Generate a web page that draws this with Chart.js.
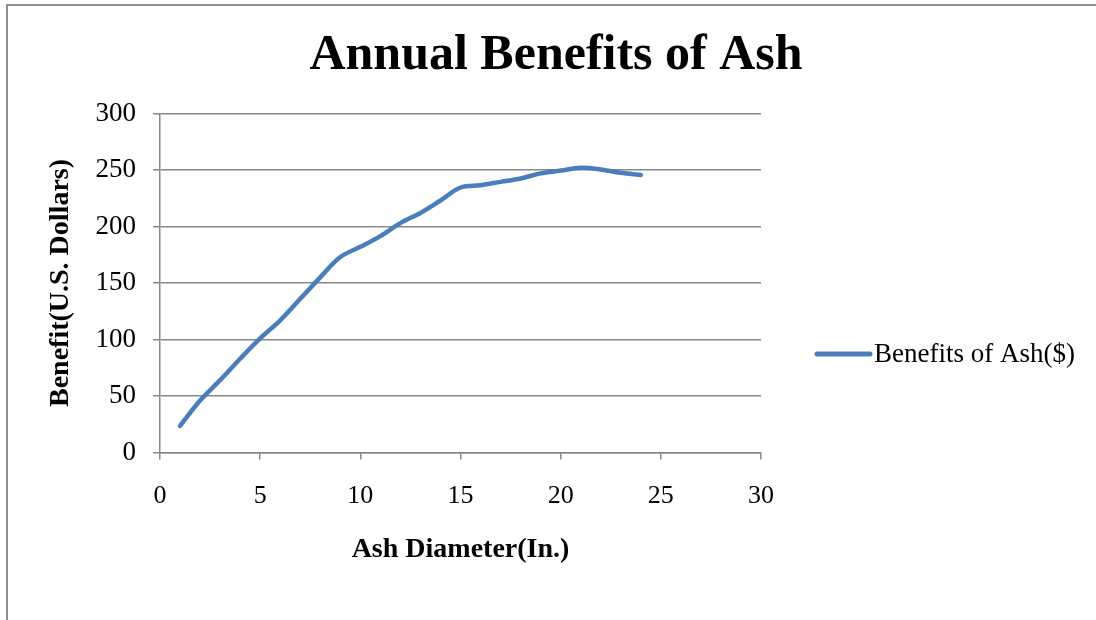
<!DOCTYPE html>
<html>
<head>
<meta charset="utf-8">
<script src="https://cdn.jsdelivr.net/npm/chart.js@4.4.1/dist/chart.umd.min.js"></script>
<style>
  html, body { margin: 0; padding: 0; background: #fff; overflow: hidden; }
  #wrap { position: relative; width: 1096px; height: 620px; }
  #frame { position: absolute; left: 6px; top: 4px; width: 1300px; height: 900px; border: 2px solid #8e8e8e; box-sizing: border-box; }
  canvas { position: absolute; left: 0; top: 0; }
</style>
</head>
<body>
<div id="wrap">
  <div id="frame"></div>
  <canvas id="c" width="1096" height="620"></canvas>
</div>
<script>
// Data
const diameters = [1, 2, 3, 4, 5, 6, 7, 8, 9, 10, 11, 12, 13, 14, 15, 16, 17, 18, 19, 20, 21, 22, 23, 24];
const benefits = [23.5, 46, 64, 83, 101, 117, 136, 155, 173, 182, 191.5, 203, 212, 223, 234.5, 236.5, 239.5, 242.5, 247, 249.5, 252, 250.5, 247.5, 245.5];
const seriesName = 'Benefits of Ash($)';
const chartTitle = 'Annual Benefits of Ash';
const xTitle = 'Ash Diameter(In.)';
const yTitle = 'Benefit(U.S. Dollars)';
const xTickStep = 5, xMin = 0, xMax = 30;
const yTickStep = 50, yMin = 0, yMax = 300;

const FONT = '"Liberation Serif", "Times New Roman", serif';
const LINE_COLOR = '#4a7ebb';
const GRID = '#888888';

const decorPlugin = {
  id: 'decor',
  afterDraw(chart) {
    const ctx = chart.ctx;
    ctx.save();
    // Chart title, centred over the whole picture
    ctx.fillStyle = '#000';
    ctx.font = 'bold 50px ' + FONT;
    ctx.textBaseline = 'middle';
    ctx.textAlign = 'center';
    ctx.fillText(chartTitle, 556, 56);
    // Legend
    ctx.strokeStyle = LINE_COLOR;
    ctx.lineWidth = 5;
    ctx.lineCap = 'round';
    ctx.beginPath();
    ctx.moveTo(817, 354);
    ctx.lineTo(870, 354);
    ctx.stroke();
    ctx.font = '27px ' + FONT;
    ctx.textAlign = 'left';
    ctx.fillText(seriesName, 874, 355);
    ctx.restore();
  }
};

new Chart(document.getElementById('c'), {
  type: 'line',
  data: {
    datasets: [{
      label: seriesName,
      data: diameters.map((x, i) => ({ x: x, y: benefits[i] })),
      borderColor: LINE_COLOR,
      backgroundColor: LINE_COLOR,
      borderWidth: 4.5,
      pointRadius: 0,
      tension: 0.35,
      borderCapStyle: 'round',
      borderJoinStyle: 'round',
      fill: false
    }]
  },
  options: {
    responsive: false,
    animation: false,
    layout: { padding: { left: 40, right: 335, top: 113.5, bottom: 49 } },
    plugins: {
      legend: { display: false },
      tooltip: { enabled: false },
      title: { display: false }
    },
    scales: {
      x: {
        type: 'linear',
        min: xMin, max: xMax,
        afterFit(scale) { scale.height = 118.5; },
        ticks: { stepSize: xTickStep, color: '#000', padding: 21, font: { family: FONT, size: 26 } },
        grid: { drawOnChartArea: false, drawTicks: true, tickLength: 7, color: GRID, lineWidth: 1.5 },
        border: { color: GRID, width: 1.5 },
        title: { display: true, text: xTitle, color: '#000', font: { family: FONT, size: 28, weight: 'bold' } }
      },
      y: {
        type: 'linear',
        min: yMin, max: yMax,
        afterFit(scale) { scale.width = 120; },
        ticks: { stepSize: yTickStep, color: '#000', padding: 17, font: { family: FONT, size: 27 } },
        grid: { drawTicks: true, tickLength: 7, color: GRID, lineWidth: 1.5 },
        border: { color: GRID, width: 1.5 },
        title: { display: true, text: yTitle, color: '#000', font: { family: FONT, size: 28, weight: 'bold' } }
      }
    }
  },
  plugins: [decorPlugin]
});
</script>
</body>
</html>
